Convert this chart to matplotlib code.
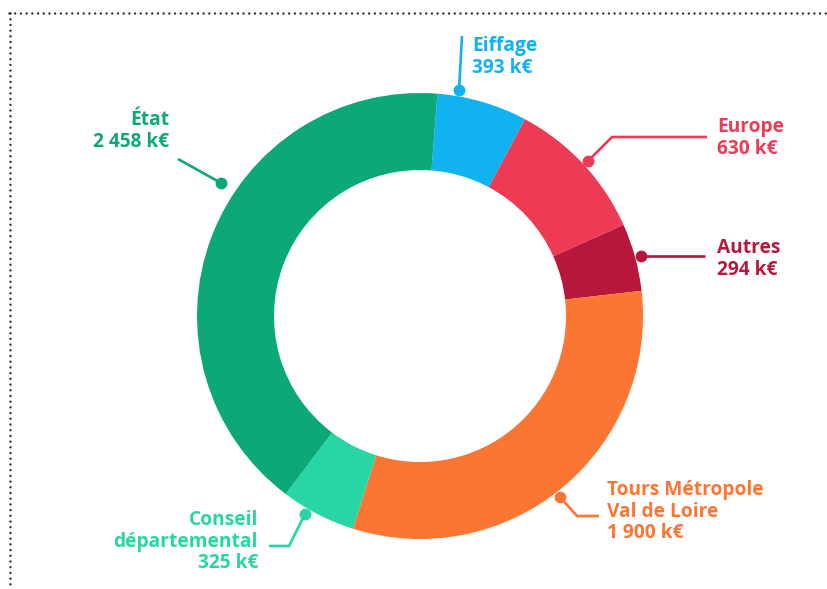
import matplotlib
matplotlib.use("Agg")
import matplotlib.pyplot as plt

plt.rcParams['font.family'] = ['Open Sans', 'DejaVu Sans']
plt.rcParams['lines.scale_dashes'] = False

# data
names = ["Eiffage", "Europe", "Autres", "Tours Métropole\nVal de Loire",
         "Conseil\ndépartemental", "État"]
values = [393, 630, 294, 1900, 325, 2458]
value_labels = ["393 k€", "630 k€", "294 k€", "1 900 k€", "325 k€", "2 458 k€"]
colors = ["#10B2EF", "#EE3B55", "#B8173C", "#FB7533", "#27D6A4", "#0DA877"]

W, H = 828, 589
fig = plt.figure(figsize=(W / 100, H / 100), dpi=100)
ax = fig.add_axes([0, 0, 1, 1])

def py(y):
    # pixel row (from top) -> axes y
    return H - y

cx, cy, R, r_in = 420, 316, 223, 146
ax.pie(values, colors=colors, startangle=85.5, counterclock=False,
       center=(cx, py(cy)), radius=R, frame=True,
       wedgeprops=dict(width=R - r_in, linewidth=0))
ax.set_xlim(0, W)
ax.set_ylim(0, H)
ax.set_aspect('equal')
ax.axis('off')

# leader lines: points from the dot outwards, text anchor, alignment
leaders = [
    ([(459, 90), (462, 36)], (472, 51), 'left'),
    ([(588, 161), (612, 137), (707, 137)], (717, 132), 'left'),
    ([(641, 256), (705, 256)], (717, 253), 'left'),
    ([(560, 497), (577, 516), (599, 516)], (607, 495), 'left'),
    ([(305, 514), (289, 546), (269, 546)], (258, 525), 'right'),
    ([(221, 183), (178, 159)], (169, 125), 'right'),
]

for (pts, (tx, ty), ha), name, val, col in zip(leaders, names, value_labels, colors):
    xs = [p[0] for p in pts]
    ys = [py(p[1]) for p in pts]
    ax.plot(xs, ys, color=col, lw=1.9, solid_capstyle='butt', zorder=3)
    ax.plot(xs[0], ys[0], 'o', color=col, ms=7.5, zorder=4)
    lines = name.split("\n") + [val]
    for i, line in enumerate(lines):
        ax.text(tx, py(ty + i * 21.7), line, color=col, ha=ha, va='baseline',
                fontsize=13.8, fontweight='bold')

# dotted frame
ax.plot([9, W], [py(12.5), py(12.5)], color='#333333', lw=1.8,
        linestyle=(0, (0.01, 4.1)), dash_capstyle='round')
ax.plot([10, 10], [py(12.5), 0], color='#333333', lw=1.8,
        linestyle=(0, (0.01, 4.1)), dash_capstyle='round')

fig.savefig("out.png", dpi=100)
